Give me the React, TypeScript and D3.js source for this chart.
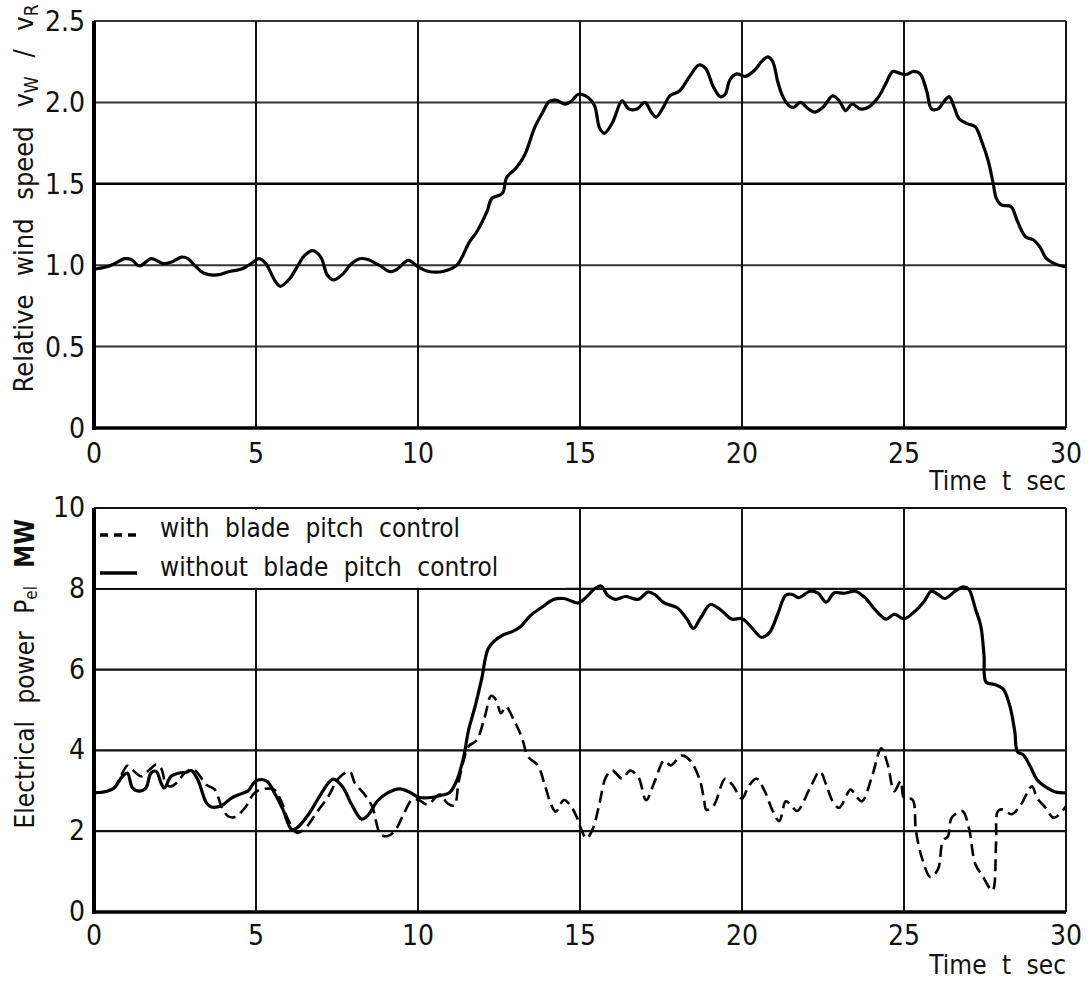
import * as d3 from "d3";

// axis ticks
const timeTicks = [0, 5, 10, 15, 20, 25, 30];
const windTicks = [0, 0.5, 1.0, 1.5, 2.0, 2.5];
const windTickLabels = ["0", "0.5", "1.0", "1.5", "2.0", "2.5"];
const powerTicks = [0, 2, 4, 6, 8, 10];
const powerTickLabels = ["0", "2", "4", "6", "8", "10"];
const legendLabels = ["with blade pitch control", "without blade pitch control"];

// relative wind speed vW/vR over time
const windTime = [
  0, 0.4, 0.6, 0.95, 1.15, 1.4, 1.77, 2.13, 2.4, 2.7, 2.9, 3.1, 3.4, 3.8, 4.15, 4.6, 4.85,
  5.1, 5.3, 5.6, 5.75, 6.05, 6.3, 6.5, 6.75, 7.0, 7.2, 7.4, 7.7, 7.95, 8.2, 8.45, 8.8, 9.15,
  9.35, 9.7, 10.0, 10.3, 10.8, 11.2, 11.58, 11.83, 12.13, 12.28, 12.6, 12.74, 13.04, 13.3,
  13.6, 13.85, 14.05, 14.25, 14.55, 14.75, 14.95, 15.25, 15.45, 15.6, 15.75, 16.0, 16.3,
  16.5, 16.76, 17.0, 17.2, 17.35, 17.57, 17.77, 18.07, 18.37, 18.67, 18.87, 19.13, 19.33,
  19.48, 19.63, 19.84, 20.1, 20.4, 20.6, 20.8, 20.95, 21.1, 21.25, 21.45, 21.6, 21.8, 22.05,
  22.25, 22.5, 22.8, 23.0, 23.2, 23.4, 23.65, 23.9, 24.2, 24.45, 24.65, 24.85, 25.05, 25.3,
  25.5, 25.7, 25.85, 26.05, 26.25, 26.4, 26.55, 26.7, 26.95, 27.2, 27.4, 27.6, 27.75, 27.85,
  28.0, 28.3, 28.5, 28.75, 29.0, 29.2, 29.4, 29.7, 30.0,
];
const windSpeed = [
  0.975, 0.99, 1.006, 1.04, 1.035, 0.995, 1.04, 1.01, 1.02, 1.05, 1.04, 1.0, 0.95, 0.94, 0.96,
  0.98, 1.01, 1.04, 1.01, 0.9, 0.87, 0.92, 1.0, 1.06, 1.09, 1.05, 0.94, 0.91, 0.95, 1.01, 1.04,
  1.035, 1.0, 0.96, 0.975, 1.03, 0.99, 0.963, 0.963, 1.0, 1.14, 1.21, 1.33, 1.41, 1.44, 1.54,
  1.6, 1.68, 1.845, 1.94, 2.006, 2.014, 1.99, 2.01, 2.05, 2.03, 1.98, 1.845, 1.81, 1.875,
  2.01, 1.96, 1.96, 2.0, 1.94, 1.91, 1.97, 2.04, 2.07, 2.155, 2.23, 2.21, 2.09, 2.035, 2.05,
  2.14, 2.175, 2.16, 2.2, 2.25, 2.28, 2.25, 2.13, 2.04, 1.98, 1.97, 2.0, 1.96, 1.94, 1.97,
  2.04, 2.01, 1.95, 1.99, 1.96, 1.97, 2.03, 2.12, 2.19, 2.18, 2.17, 2.19, 2.175, 2.07, 1.96,
  1.96, 2.01, 2.035, 1.97, 1.9, 1.87, 1.85, 1.76, 1.64, 1.505, 1.41, 1.37, 1.36, 1.27, 1.175,
  1.155, 1.11, 1.04, 1.005, 0.99,
];

// electrical power without blade pitch control (MW)
const timeWithout = [
  0, 0.4, 0.62, 0.88, 1.03, 1.19, 1.4, 1.6, 1.76, 1.92, 2.07, 2.17, 2.38, 2.64, 2.85, 3.0,
  3.2, 3.47, 3.62, 3.93, 4.24, 4.55, 4.76, 4.97, 5.18, 5.35, 5.6, 5.83, 6.1, 6.26, 6.58, 6.9,
  7.23, 7.39, 7.66, 7.98, 8.26, 8.47, 8.74, 9.06, 9.44, 9.76, 10.03, 10.46, 10.72, 10.97,
  11.2, 11.41, 11.56, 11.76, 11.96, 12.16, 12.36, 12.61, 12.91, 13.16, 13.46, 13.8, 14.2,
  14.5, 14.75, 14.95, 15.2, 15.45, 15.65, 15.85, 16.1, 16.4, 16.8, 17.1, 17.3, 17.6, 18.0,
  18.3, 18.5, 18.73, 19.03, 19.38, 19.68, 20.0, 20.3, 20.6, 20.85, 21.1, 21.35, 21.55, 21.75,
  22.1, 22.35, 22.6, 22.85, 23.15, 23.5, 23.8, 24.1, 24.45, 24.7, 25.0, 25.32, 25.63, 25.84,
  26.05, 26.26, 26.58, 26.84, 27.0, 27.21, 27.37, 27.47, 27.53, 27.79, 28.05, 28.26, 28.42,
  28.5, 28.68, 28.9, 29.1, 29.42, 29.68, 30.0,
];
const powerWithout = [
  2.95, 2.99, 3.07, 3.36, 3.44, 3.07, 2.99, 3.07, 3.44, 3.48, 3.19, 3.07, 3.36, 3.44, 3.46,
  3.5, 3.28, 2.7, 2.6, 2.63, 2.82, 2.93, 3.0, 3.23, 3.28, 3.23, 2.9, 2.54, 2.04, 2.08, 2.37,
  2.78, 3.19, 3.29, 3.11, 2.62, 2.3, 2.41, 2.74, 2.95, 3.05, 2.96, 2.84, 2.84, 2.89, 2.95,
  3.26, 3.84, 4.5, 5.08, 5.75, 6.51, 6.71, 6.85, 6.94, 7.06, 7.33, 7.53, 7.74, 7.76, 7.69,
  7.65, 7.8, 8.0, 8.07, 7.84, 7.74, 7.81, 7.74, 7.92, 7.86, 7.65, 7.53, 7.25, 7.02, 7.29,
  7.61, 7.45, 7.25, 7.26, 7.04, 6.8, 6.92, 7.37, 7.84, 7.86, 7.78, 7.94, 7.89, 7.67, 7.9,
  7.89, 7.94, 7.78, 7.49, 7.25, 7.37, 7.26, 7.43, 7.7, 7.94, 7.86, 7.76, 7.94, 8.05, 7.99,
  7.49, 7.08, 6.35, 5.69, 5.63, 5.53, 5.12, 4.46, 3.97, 3.89, 3.6, 3.28, 3.07, 2.97, 2.95,
];

// electrical power with blade pitch control (MW)
const timeWith = [
  0, 0.4, 0.62, 0.85, 1.03, 1.19, 1.45, 1.71, 1.92, 2.07, 2.23, 2.38, 2.59, 2.8, 3.05, 3.2,
  3.47, 3.73, 3.93, 4.14, 4.35, 4.66, 4.97, 5.29, 5.56, 5.78, 5.99, 6.26, 6.53, 6.86, 7.23,
  7.56, 7.89, 8.05, 8.31, 8.58, 8.85, 9.06, 9.28, 9.55, 9.82, 10.02, 10.3, 10.67, 10.92,
  11.12, 11.25, 11.41, 11.56, 11.81, 12.06, 12.26, 12.41, 12.56, 12.71, 12.96, 13.2, 13.4,
  13.7, 13.9, 14.1, 14.25, 14.5, 14.7, 14.9, 15.05, 15.2, 15.4, 15.6, 15.8, 16.0, 16.3,
  16.54, 16.8, 17.04, 17.3, 17.6, 17.8, 18.14, 18.4, 18.7, 18.83, 18.9, 19.13, 19.48, 19.7,
  20.0, 20.2, 20.45, 20.7, 20.95, 21.15, 21.35, 21.5, 21.7, 22.1, 22.4, 22.6, 22.8, 23.0,
  23.35, 23.5, 23.7, 24.0, 24.3, 24.5, 24.7, 24.9, 25.0, 25.26, 25.37, 25.58, 25.82, 26.05,
  26.2, 26.36, 26.47, 26.8, 27.0, 27.2, 27.42, 27.73, 27.84, 27.9, 28.05, 28.32, 28.58,
  28.95, 29.1, 29.37, 29.63, 30.0,
];
const powerWith = [
  2.95, 2.99, 3.07, 3.4, 3.62, 3.52, 3.36, 3.52, 3.65, 3.56, 3.15, 3.11, 3.23, 3.44, 3.54,
  3.44, 3.15, 3.03, 2.62, 2.37, 2.35, 2.58, 2.96, 3.05, 3.03, 2.74, 2.29, 1.96, 2.08, 2.45,
  2.86, 3.32, 3.48, 3.19, 2.95, 2.62, 1.92, 1.88, 2.0, 2.41, 2.78, 2.77, 2.66, 2.91, 2.68,
  2.64, 3.2, 3.75, 4.1, 4.25, 4.83, 5.35, 5.25, 4.92, 5.08, 4.75, 4.33, 3.84, 3.63, 3.18,
  2.68, 2.48, 2.77, 2.64, 2.35, 2.02, 1.82, 2.07, 2.68, 3.34, 3.5, 3.3, 3.5, 3.34, 2.77,
  3.22, 3.75, 3.63, 3.87, 3.75, 3.26, 2.77, 2.53, 2.64, 3.3, 3.15, 2.81, 3.11, 3.3, 2.99,
  2.5, 2.25, 2.74, 2.66, 2.5, 3.07, 3.48, 3.15, 2.74, 2.58, 3.03, 2.89, 2.74, 3.32, 4.05,
  3.64, 2.99, 3.24, 2.83, 2.78, 2.0, 1.27, 0.86, 1.06, 1.76, 1.88, 2.33, 2.5, 2.09, 1.19,
  0.9, 0.53, 1.68, 2.5, 2.54, 2.42, 2.62, 3.11, 2.83, 2.58, 2.33, 2.62,
];

const FONT = "'DejaVu Sans Condensed', 'Liberation Sans Narrow', 'DejaVu Sans', sans-serif";
const W = 1091;
const H = 988;

export default function App() {
  const x = d3.scaleLinear().domain([0, 30]).range([94, 1066]);
  const yWind = d3.scaleLinear().domain([0, 2.5]).range([428, 21]);
  const yPow = d3.scaleLinear().domain([0, 10]).range([912, 508]);

  const line = (ys: d3.ScaleLinear<number, number>) =>
    d3
      .line<[number, number]>()
      .x((d) => x(d[0]))
      .y((d) => ys(d[1]))
      .curve(d3.curveCatmullRom.alpha(0.5));

  const windPts = windTime.map((t, i) => [t, windSpeed[i]] as [number, number]);
  const withoutPts = timeWithout.map((t, i) => [t, powerWithout[i]] as [number, number]);
  const withPts = timeWith.map((t, i) => [t, powerWith[i]] as [number, number]);

  const txt = { fontFamily: FONT, fontStretch: "condensed" as const, fill: "#111" };

  return (
    <svg
      width={W}
      height={H}
      style={{ position: "absolute", left: 0, top: 0, background: "#fff" }}
    >
      {/* ---------- top chart: wind speed ---------- */}
      <g>
        {windTicks.map((v, i) => (
          <line
            key={"wh" + i}
            x1={x(0)}
            x2={x(30)}
            y1={yWind(v)}
            y2={yWind(v)}
            stroke={v === 1.5 ? "#000" : "#333"}
            strokeWidth={v === 1.5 ? 2.5 : 2}
          />
        ))}
        {timeTicks.map((t) => (
          <line
            key={"wv" + t}
            x1={x(t)}
            x2={x(t)}
            y1={yWind(0)}
            y2={yWind(2.5)}
            stroke="#111"
            strokeWidth={2}
          />
        ))}
        <line x1={x(0)} x2={x(0)} y1={yWind(0) + 2} y2={yWind(2.5)} stroke="#000" strokeWidth={4} />
        <line x1={x(0)} x2={x(30)} y1={yWind(0)} y2={yWind(0)} stroke="#000" strokeWidth={3.5} />
        <path d={line(yWind)(windPts) ?? ""} fill="none" stroke="#000" strokeWidth={3.2} />

        {windTicks.map((v, i) => (
          <text key={"wl" + i} x={85} y={yWind(v) + 10} textAnchor="end" fontSize={28} {...txt}>
            {windTickLabels[i]}
          </text>
        ))}
        {timeTicks.map((t) => (
          <text key={"wx" + t} x={x(t)} y={yWind(0) + 35} textAnchor="middle" fontSize={28} {...txt}>
            {t}
          </text>
        ))}
        <text x={1066} y={490} textAnchor="end" fontSize={26} wordSpacing={8} {...txt}>
          Time t sec
        </text>
        <text
          transform={`translate(33, ${yWind(1.41)}) rotate(-90)`}
          textAnchor="middle"
          fontSize={27}
          wordSpacing={11}
          {...txt}
        >
          Relative wind speed v<tspan fontSize={19} dy={5}>W</tspan>
          <tspan dy={-5}> / v</tspan>
          <tspan fontSize={19} dy={5}>R</tspan>
        </text>
      </g>

      {/* ---------- bottom chart: electrical power ---------- */}
      <g>
        {powerTicks.map((v) => (
          <line
            key={"ph" + v}
            x1={x(0)}
            x2={x(30)}
            y1={yPow(v)}
            y2={yPow(v)}
            stroke="#111"
            strokeWidth={2.2}
          />
        ))}
        {timeTicks.map((t) => (
          <line
            key={"pv" + t}
            x1={x(t)}
            x2={x(t)}
            y1={yPow(0)}
            y2={yPow(10)}
            stroke="#111"
            strokeWidth={2}
          />
        ))}
        {/* legend box hides grid above 8 MW */}
        <rect x={x(0) + 2} y={yPow(10) + 2} width={x(14.5) - x(0)} height={yPow(8) - yPow(10) - 3} fill="#fff" />
        <line x1={x(0)} x2={x(0)} y1={yPow(0) + 2} y2={yPow(10)} stroke="#000" strokeWidth={4} />
        <line x1={x(0)} x2={x(30)} y1={yPow(0)} y2={yPow(0)} stroke="#000" strokeWidth={3.5} />

        <path
          d={line(yPow)(withPts) ?? ""}
          fill="none"
          stroke="#000"
          strokeWidth={2.6}
          strokeDasharray="12 6"
        />
        <path d={line(yPow)(withoutPts) ?? ""} fill="none" stroke="#000" strokeWidth={3.2} />

        {/* legend */}
        <line x1={100} x2={137} y1={535} y2={535} stroke="#000" strokeWidth={3.5} strokeDasharray="8 6" />
        <line x1={100} x2={137} y1={573} y2={573} stroke="#000" strokeWidth={3.5} />
        {legendLabels.map((l, i) => (
          <text key={l} x={160} y={537 + i * 39} fontSize={26} wordSpacing={8} {...txt}>
            {l}
          </text>
        ))}

        {powerTicks.map((v, i) => (
          <text key={"pl" + v} x={85} y={yPow(v) + 9} textAnchor="end" fontSize={28} {...txt}>
            {powerTickLabels[i]}
          </text>
        ))}
        {timeTicks.map((t) => (
          <text key={"px" + t} x={x(t)} y={yPow(0) + 33} textAnchor="middle" fontSize={28} {...txt}>
            {t}
          </text>
        ))}
        <text x={1066} y={974} textAnchor="end" fontSize={26} wordSpacing={8} {...txt}>
          Time t sec
        </text>
        <text
          transform={`translate(34, ${yPow(5.9)}) rotate(-90)`}
          textAnchor="middle"
          fontSize={26}
          wordSpacing={10}
          {...txt}
        >
          Electrical power P<tspan fontSize={17} dy={3}>el</tspan>
          <tspan dy={-3} fontWeight="bold"> MW</tspan>
        </text>
      </g>
    </svg>
  );
}
